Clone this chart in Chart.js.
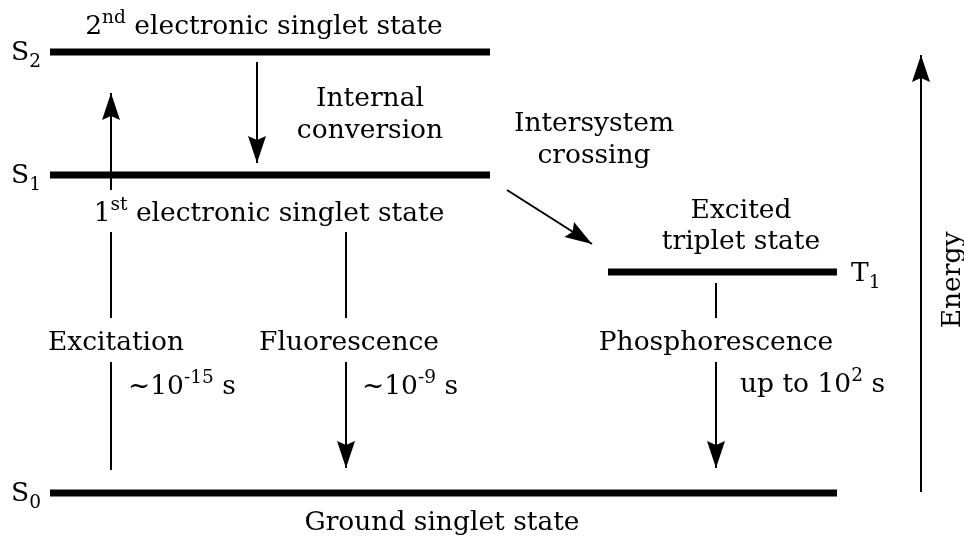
<!DOCTYPE html>
<html>
<head>
<meta charset="utf-8">
<script src="https://cdn.jsdelivr.net/npm/chart.js@4.4.0/dist/chart.umd.min.js"></script>
<style>
  html, body { margin: 0; padding: 0; background: #fff; }
  #wrap { width: 964px; height: 541px; }
</style>
</head>
<body>
<div id="wrap"><canvas id="c"></canvas></div>
<script>
// --- data: energy levels (diagram units, y grows downward) ---
const levelNames = ['S0', 'S1', 'S2', 'T1'];
const levelY     = [493, 175, 52, 272];
const levelStart = [50, 50, 50, 608];
const levelEnd   = [837, 490, 490, 837];

// --- transitions ---
const transNames = ['Excitation', 'Internal conversion', 'Intersystem crossing', 'Fluorescence', 'Phosphorescence'];
const transFrom  = [[111, 470], [257, 62], [507, 190], [346, 232], [716, 283]];
const transTo    = [[111, 93], [257, 163], [592, 244], [346, 468], [716, 468]];
const transGaps  = [[[318, 362], [190, 232]], [], [], [[318, 362]], [[318, 362]]];
const transTimes = ['~10^-15 s', '', '', '~10^-9 s', 'up to 10^2 s'];

// energy axis arrow
const energyFrom = [921, 492];
const energyTo   = [921, 55];

const FONT = '"DejaVu Serif", serif';
const S = 26.5;

// split a vertical shaft around the label gaps
function shaftSegments(from, to, gaps){
  if(!gaps.length) return [[from, to]];
  const x = from[0];
  const inner = [];
  gaps.forEach(g => { inner.push(g[0], g[1]); });
  inner.sort((a,b)=> from[1] > to[1] ? b-a : a-b);
  const pts = [from[1], ...inner, to[1]];
  const segs = [];
  for(let i=0;i<pts.length;i+=2) segs.push([[x, pts[i]], [x, pts[i+1]]]);
  return segs;
}

const datasets = [];
levelNames.forEach((n,i)=>{
  datasets.push({
    label: n,
    data: [{x: levelStart[i], y: levelY[i]}, {x: levelEnd[i], y: levelY[i]}],
    showLine: true, borderColor: '#000', borderWidth: 7, pointRadius: 0, borderCapStyle: 'butt'
  });
});
transNames.forEach((n,i)=>{
  shaftSegments(transFrom[i], transTo[i], transGaps[i]).forEach(s=>{
    datasets.push({
      label: n,
      data: s.map(p=>({x:p[0], y:p[1]})),
      showLine: true, borderColor: '#000', borderWidth: 2, pointRadius: 0
    });
  });
});
datasets.push({
  label: 'Energy',
  data: [{x: energyFrom[0], y: energyFrom[1]}, {x: energyTo[0], y: energyTo[1]}],
  showLine: true, borderColor: '#000', borderWidth: 2, pointRadius: 0
});

// rich text: parts of [text, kind] where kind is '', 'sup' or 'sub'
function drawRich(ctx, parts, x, y, size, align){
  const widths = parts.map(p=>{
    ctx.font = (p[1] ? size*0.7 : size) + 'px ' + FONT;
    return ctx.measureText(p[0]).width;
  });
  const total = widths.reduce((a,b)=>a+b, 0);
  let cx = align === 'left' ? x : x - total/2;
  parts.forEach((p,i)=>{
    ctx.font = (p[1] ? size*0.7 : size) + 'px ' + FONT;
    let dy = 0;
    if(p[1] === 'sup') dy = -size*0.4;
    if(p[1] === 'sub') dy = size*0.26;
    ctx.fillText(p[0], cx, y + dy);
    cx += widths[i];
  });
}

function parseSup(s){
  // "~10^-15 s" -> [['~10',''],['-15','sup'],[' s','']]
  const m = s.match(/^(.*)\^(\S+)(.*)$/);
  if(!m) return [[s,'']];
  return [[m[1],''],[m[2],'sup'],[m[3],'']];
}

function arrowHead(ctx, p0, p1, len, half){
  const a = Math.atan2(p1[1]-p0[1], p1[0]-p0[0]);
  ctx.save();
  ctx.translate(p1[0], p1[1]);
  ctx.rotate(a);
  ctx.beginPath();
  ctx.moveTo(0, 0);
  ctx.lineTo(-len, -half);
  ctx.lineTo(-len*0.85, 0);
  ctx.lineTo(-len, half);
  ctx.closePath();
  ctx.fill();
  ctx.restore();
}

const diagramText = {
  id: 'diagramText',
  afterDatasetsDraw(chart){
    const {ctx, scales:{x, y}} = chart;
    const px = (p)=>[x.getPixelForValue(p[0]), y.getPixelForValue(p[1])];
    ctx.save();
    ctx.fillStyle = '#000';
    ctx.textBaseline = 'alphabetic';

    // arrow heads
    transNames.forEach((n,i)=>arrowHead(ctx, px(transFrom[i]), px(transTo[i]), 27, 9));
    arrowHead(ctx, px(energyFrom), px(energyTo), 27, 9);

    // level labels
    const lab = (name, xv, yv)=>{
      const p = px([xv, yv]);
      drawRich(ctx, [[name[0],''],[name.slice(1),'sub']], p[0], p[1], S, 'left');
    };
    lab(levelNames[0], 11, levelY[0]+8);
    lab(levelNames[1], 11, levelY[1]+8);
    lab(levelNames[2], 11, levelY[2]+8);
    lab(levelNames[3], 851, levelY[3]+9);

    const t = (parts, xv, yv)=>{ const p = px([xv, yv]); drawRich(ctx, parts, p[0], p[1], S, 'center'); };
    t([['2',''],['nd','sup'],[' electronic singlet state','']], 264, 34);
    t([['1',''],['st','sup'],[' electronic singlet state','']], 269, 221);
    t([['Ground singlet state','']], 442, 530);
    t([['Internal','']], 370, 106);
    t([['conversion','']], 370, 138);
    t([['Intersystem','']], 594, 131);
    t([['crossing','']], 594, 163);
    t([['Excited','']], 741, 218);
    t([['triplet state','']], 741, 249);
    t([[transNames[0],'']], 116, 350);
    t([[transNames[3],'']], 349, 350);
    t([[transNames[4],'']], 716, 350);

    const tl = (s, xv, yv)=>{ const p = px([xv, yv]); drawRich(ctx, parseSup(s), p[0], p[1], S, 'left'); };
    tl(transTimes[0], 128, 394);
    tl(transTimes[3], 362, 394);
    tl(transTimes[4], 740, 392);

    // Energy label, rotated
    const e = px([953, 280]);
    ctx.translate(e[0], e[1]);
    ctx.rotate(-Math.PI/2);
    ctx.font = S + 'px ' + FONT;
    ctx.textAlign = 'center';
    ctx.textBaseline = 'middle';
    ctx.fillText('Energy', 0, 0);
    ctx.restore();
  }
};

new Chart(document.getElementById('c'), {
  type: 'scatter',
  data: { datasets },
  options: {
    responsive: true,
    maintainAspectRatio: false,
    animation: false,
    layout: { padding: 0 },
    plugins: { legend: { display: false }, tooltip: { enabled: false } },
    scales: {
      x: { type: 'linear', min: 0, max: 964, display: false },
      y: { type: 'linear', min: 0, max: 541, reverse: true, display: false }
    }
  },
  plugins: [diagramText]
});
</script>
</body>
</html>
